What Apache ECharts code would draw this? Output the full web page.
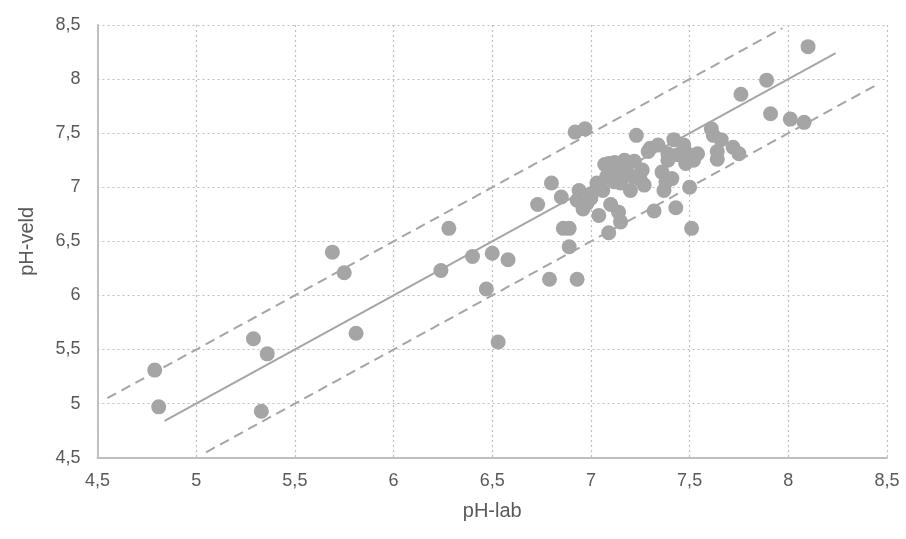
<!DOCTYPE html>
<html>
<head>
<meta charset="utf-8">
<script src="https://cdn.jsdelivr.net/npm/echarts@6/dist/echarts.min.js"></script>
<style>html,body{margin:0;padding:0;background:#fff}#c{width:906px;height:539px}</style>
</head>
<body>
<div id="c"></div>
<script>
// Measured pairs: [pH-lab, pH-veld]
const phLab = [4.79,4.81,5.29,5.36,5.33,5.69,5.75,5.81,6.24,6.28,6.40,6.47,6.50,6.58,6.53,6.79,6.93,6.89,6.86,6.89,7.09,7.51,8.10,7.89,7.76,7.91,8.01,8.08,6.92,6.97,7.23,6.80,6.73,6.85,7.04,7.15,7.32,7.43,7.50,7.61,7.62,7.66,7.72,7.75,7.64,7.64,7.54,7.42,7.47,7.34,7.29,7.39,7.49,7.52,7.48,7.39,7.17,7.22,7.26,7.25,7.27,7.15,7.36,7.41,7.38,7.37,7.07,7.12,7.10,7.18,7.21,7.15,7.03,7.20,6.94,6.96,6.93,7.00,7.14,7.10,7.06,7.09,7.00,7.05,7.12,7.08,6.98,7.44,7.30];
const phVeld = [5.31,4.97,5.60,5.46,4.93,6.40,6.21,5.65,6.23,6.62,6.36,6.06,6.39,6.33,5.57,6.15,6.15,6.45,6.62,6.62,6.58,6.62,8.30,7.99,7.86,7.68,7.63,7.60,7.51,7.54,7.48,7.04,6.84,6.91,6.74,6.68,6.78,6.81,7.00,7.54,7.48,7.44,7.37,7.31,7.33,7.26,7.31,7.44,7.39,7.39,7.33,7.31,7.31,7.25,7.22,7.25,7.25,7.24,7.16,7.07,7.02,7.13,7.14,7.08,7.05,6.97,7.21,7.23,7.16,7.19,7.10,7.04,7.04,6.97,6.97,6.80,6.88,6.94,6.77,6.84,6.97,7.22,6.90,7.00,7.05,7.10,6.85,7.30,7.36];
// Reference lines (1:1 and ±0.5)
const lineMid = [[4.84, 4.84], [8.24, 8.24]];
const lineUpper = [[4.55, 5.05], [7.97, 8.47]];
const lineLower = [[5.05, 4.55], [8.45, 7.95]];
const xTicks = {min: 4.5, max: 8.5, step: 0.5};
const yTicks = {min: 4.5, max: 8.5, step: 0.5};

const pts = phLab.map((v, i) => [v, phVeld[i]]);
const txt = '#595959', gridCol = '#BFBFBF', mark = '#A5A5A5';
const fmt = v => String(v).replace('.', ',');
const chart = echarts.init(document.getElementById('c'));
chart.setOption({
  animation: false,
  textStyle: {fontFamily: 'Liberation Sans, Arial, sans-serif'},
  grid: {left: 97.5, right: 19, top: 25, bottom: 81.3, containLabel: false},
  xAxis: {
    type: 'value', min: xTicks.min, max: xTicks.max, interval: xTicks.step,
    name: 'pH-lab', nameLocation: 'middle', nameGap: 44,
    nameTextStyle: {color: txt, fontSize: 20},
    axisLine: {lineStyle: {color: gridCol, width: 2}},
    axisTick: {show: false},
    axisLabel: {color: txt, fontSize: 18, margin: 14, formatter: fmt},
    splitLine: {show: true, lineStyle: {color: gridCol, type: [2, 3], width: 1.2}}
  },
  yAxis: {
    type: 'value', min: yTicks.min, max: yTicks.max, interval: yTicks.step,
    name: 'pH-veld', nameLocation: 'middle', nameGap: 60, nameRotate: 90,
    nameTextStyle: {color: txt, fontSize: 20},
    axisLine: {show: true, lineStyle: {color: gridCol, width: 2}},
    axisTick: {show: false},
    axisLabel: {color: txt, fontSize: 18, margin: 17, formatter: fmt},
    splitLine: {show: true, lineStyle: {color: gridCol, type: [2, 3], width: 1.2}}
  },
  series: [
    {type: 'line', data: lineMid, symbol: 'none', z: 1, lineStyle: {color: mark, width: 2}},
    {type: 'line', data: lineUpper, symbol: 'none', z: 1, lineStyle: {color: mark, width: 2, type: [10, 6]}},
    {type: 'line', data: lineLower, symbol: 'none', z: 1, lineStyle: {color: mark, width: 2, type: [10, 6]}},
    {type: 'scatter', data: pts, symbol: 'circle', symbolSize: 15, z: 3, itemStyle: {color: mark, opacity: 1}}
  ]
});
</script>
</body>
</html>
